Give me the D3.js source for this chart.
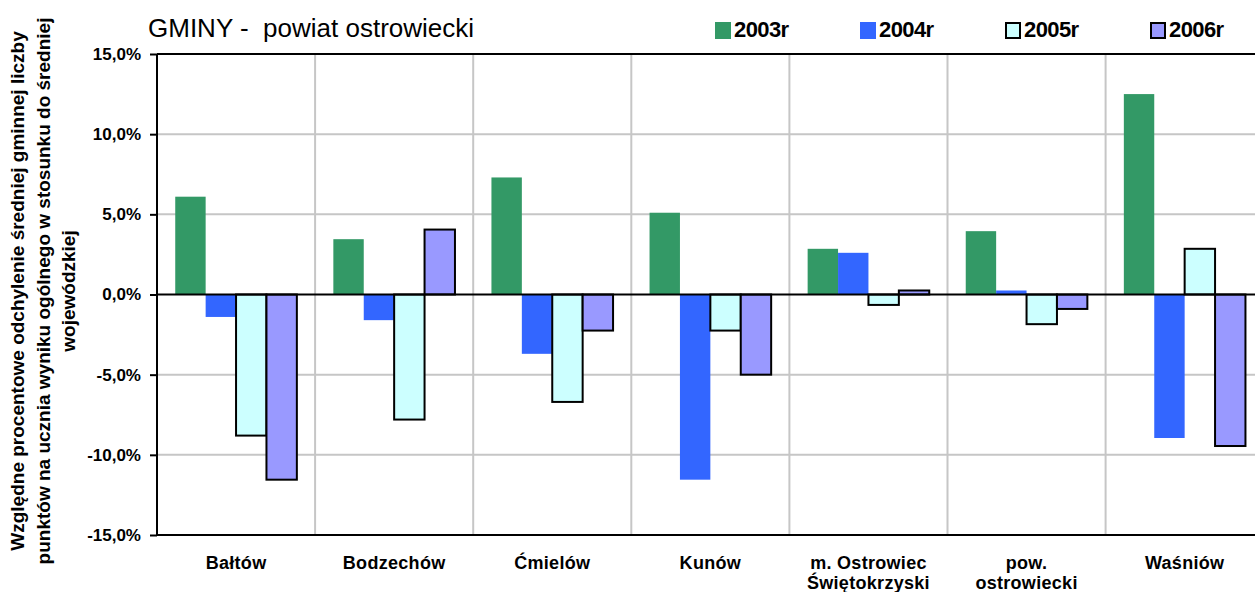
<!DOCTYPE html>
<html>
<head>
<meta charset="utf-8">
<script src="https://cdn.jsdelivr.net/npm/d3@7"></script>
<style>
  html, body { margin: 0; padding: 0; background: #fff; }
  svg { display: block; font-family: 'Liberation Sans', Arial, sans-serif; }
  .grid line { stroke: #c6c6c6; stroke-width: 2px; }
  .axis-y path { display: none; }
  .axis-y line { stroke: #000; stroke-width: 2px; }
  .axis-y text { font-size: 17px; font-weight: bold; fill: #000; }
  .cat-label { font-size: 18px; font-weight: bold; fill: #000; }
</style>
</head>
<body>
<div id="chart"></div>
<script>
;(function() {
  'use strict';

  // Data (values in %).
  var categories = ['Bałtów', 'Bodzechów', 'Ćmielów', 'Kunów',
                    'm. Ostrowiec Świętokrzyski', 'pow. ostrowiecki', 'Waśniów'];
  var seriesNames = ['2003r', '2004r', '2005r', '2006r'];
  var values2003 = [6.1, 3.45, 7.3, 5.1, 2.85, 3.95, 12.5];
  var values2004 = [-1.4, -1.6, -3.7, -11.55, 2.6, 0.25, -8.95];
  var values2005 = [-8.8, -7.8, -6.7, -2.25, -0.65, -1.85, 2.85];
  var values2006 = [-11.55, 4.05, -2.25, -5.0, 0.25, -0.9, -9.45];
  var yTicks = [-15, -10, -5, 0, 5, 10, 15];

  var seriesValues = [values2003, values2004, values2005, values2006];
  var colors = ['#339966', '#3366ff', '#ccffff', '#9999ff'];
  var outlined = [false, false, true, true];

  var width = 1255, height = 592;
  var margin = {top: 54, left: 157};
  var plotW = 7 * 158.1,
      plotH = 481;

  var locale = d3.formatLocale({decimal: ',', thousands: ' ', grouping: [3],
                                currency: ['', ''], minus: '-'});
  var pct = function(d) { return locale.format('.1f')(d) + '%'; };

  var xScale = d3.scaleBand().domain(categories).range([0, plotW]);
  var xInner = d3.scaleBand().domain(seriesNames)
                 .range([0, xScale.bandwidth()]).paddingOuter(0.6);
  var yScale = d3.scaleLinear().domain([-15, 15]).range([plotH, 0]);

  var rows = categories.map(function(c, i) {
    return {
      group: c,
      bars: seriesNames.map(function(s, j) {
        return {series: s, idx: j, value: seriesValues[j][i]};
      })
    };
  });

  var svg = d3.select('#chart').append('svg')
      .attr('width', width)
      .attr('height', height);

  var inner = svg.append('g')
      .attr('transform', translation(margin.left, margin.top));

  // Horizontal gridlines.
  inner.append('g').attr('class', 'grid')
    .selectAll('line')
    .data(yTicks.filter(function(d) { return d !== 0 && Math.abs(d) !== 15; }))
    .enter().append('line')
      .attr('x1', 0).attr('x2', plotW)
      .attr('y1', function(d) { return yScale(d); })
      .attr('y2', function(d) { return yScale(d); });

  // Vertical gridlines between categories.
  inner.append('g').attr('class', 'grid')
    .selectAll('line')
    .data(categories.slice(1))
    .enter().append('line')
      .attr('x1', function(d) { return xScale(d); })
      .attr('x2', function(d) { return xScale(d); })
      .attr('y1', 0).attr('y2', plotH);

  // Bars.
  var groups = inner.selectAll('.cat')
      .data(rows)
      .enter().append('g')
      .attr('class', 'cat')
      .attr('transform', function(d) { return translation(xScale(d.group), 0); });

  groups.selectAll('rect')
      .data(function(d) { return d.bars; })
      .enter().append('rect')
      .attr('x', function(d) { return xInner(d.series); })
      .attr('width', xInner.bandwidth())
      .attr('y', function(d) { return yScale(Math.max(0, d.value)); })
      .attr('height', function(d) { return Math.abs(yScale(d.value) - yScale(0)); })
      .attr('fill', function(d) { return colors[d.idx]; })
      .attr('stroke', function(d) { return outlined[d.idx] ? '#000' : 'none'; })
      .attr('stroke-width', 2);

  // Frame lines: top, bottom, right and the zero line.
  var frame = inner.append('g').attr('stroke', '#000').attr('stroke-width', 2);
  frame.append('line').attr('x1', 0).attr('x2', plotW)
       .attr('y1', yScale(15)).attr('y2', yScale(15));
  frame.append('line').attr('x1', 0).attr('x2', plotW)
       .attr('y1', yScale(-15)).attr('y2', yScale(-15));
  frame.append('line').attr('x1', 0).attr('x2', plotW)
       .attr('y1', yScale(0)).attr('y2', yScale(0));
  frame.append('line').attr('x1', plotW).attr('x2', plotW)
       .attr('y1', 0).attr('y2', plotH);

  // Y axis.
  var yAxis = d3.axisLeft(yScale)
      .tickValues(yTicks)
      .tickFormat(pct)
      .tickSize(7)
      .tickPadding(9);
  inner.append('g').attr('class', 'axis axis-y').call(yAxis);
  frame.append('line').attr('x1', 0).attr('x2', 0)
       .attr('y1', 0).attr('y2', plotH);

  // Category labels, wrapped like the original.
  var labels = inner.append('g')
      .selectAll('text')
      .data(categories)
      .enter().append('text')
      .attr('class', 'cat-label')
      .attr('text-anchor', 'middle')
      .attr('letter-spacing', 0.3)
      .attr('x', function(d) { return xScale(d) + xScale.bandwidth() / 2; })
      .attr('y', plotH + 34);
  labels.each(function(d) {
    var text = d3.select(this),
        x = text.attr('x'),
        words = d.split(' '),
        line = [],
        tspan = text.append('tspan').attr('x', x);
    words.forEach(function(w) {
      line.push(w);
      tspan.text(line.join(' '));
      if (tspan.node().getComputedTextLength() > 135 && line.length > 1) {
        line.pop();
        tspan.text(line.join(' '));
        line = [w];
        tspan = text.append('tspan').attr('x', x).attr('dy', 20).text(w);
      }
    });
  });

  // Y axis title, three lines.
  var yTitle = ['Względne procentowe odchylenie średniej gminnej liczby',
                'punktów na ucznia wyniku ogólnego w stosunku do średniej',
                'wojewódzkiej'];
  svg.append('text')
      .attr('transform', translation(24, 291) + ' rotate(-90)')
      .attr('text-anchor', 'middle')
      .style('font-size', '19px')
      .style('font-weight', 'bold')
      .selectAll('tspan')
      .data(yTitle)
      .enter().append('tspan')
      .attr('x', 0)
      .attr('y', function(d, i) { return i * 25.5; })
      .text(function(d) { return d; });

  // Title.
  svg.append('text')
      .attr('x', 148).attr('y', 37)
      .style('font-size', '26px')
      .text('GMINY -\u00a0 powiat ostrowiecki');

  // Legend.
  var legend = svg.append('g').selectAll('g')
      .data(seriesNames)
      .enter().append('g')
      .attr('transform', function(d, i) { return translation(715 + i * 145, 22); });
  legend.append('rect')
      .attr('x', function(d, i) { return outlined[i] ? 1 : 0; })
      .attr('y', function(d, i) { return outlined[i] ? 1 : 0; })
      .attr('width', function(d, i) { return outlined[i] ? 14 : 16; })
      .attr('height', function(d, i) { return outlined[i] ? 15 : 17; })
      .attr('fill', function(d, i) { return colors[i]; })
      .attr('stroke', function(d, i) { return outlined[i] ? '#000' : 'none'; })
      .attr('stroke-width', 2);
  legend.append('text')
      .attr('x', 19).attr('y', 15)
      .style('font-size', '22px')
      .style('font-weight', 'bold')
      .attr('letter-spacing', -0.6)
      .text(function(d) { return d; });

  function translation(x, y) {
    return 'translate(' + x + ',' + y + ')';
  }
}());
</script>
</body>
</html>
